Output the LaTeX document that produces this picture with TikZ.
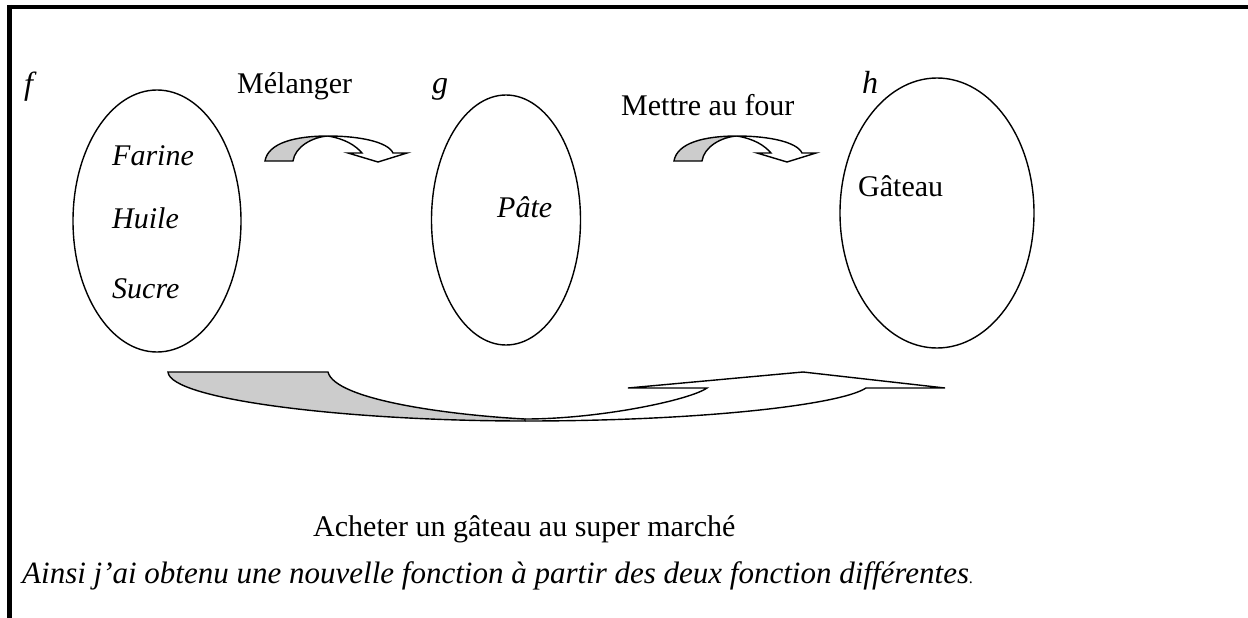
\documentclass[tikz,border=0pt]{standalone}
\usepackage{fontspec}
\setmainfont{Liberation Serif}
\usetikzlibrary{shapes.geometric}
\begin{document}
\begin{tikzpicture}[x=1pt,y=-1pt,
  setshape/.style={draw,ellipse,line width=1.4pt,inner sep=0pt},
  lbl/.style={anchor=base west,inner sep=0pt,font=\fontsize{30}{35}\selectfont},
  ilbl/.style={anchor=base west,inner sep=0pt,font=\fontsize{30}{35}\selectfont\itshape},
  band/.style={draw,line width=1.4pt,line join=miter},
  grayband/.style={band,fill=black!20}]
\useasboundingbox (0,0) rectangle (1248,618);
% frame
\draw[line width=4pt] (7,7) -- (1248,7);
\draw[line width=4.5pt] (9.5,5) -- (9.5,618);
% sets
\node[setshape,minimum width=168pt,minimum height=262pt] (setf) at (157,221) {};
\node[setshape,minimum width=149pt,minimum height=250pt] (setg) at (506,220) {};
\node[setshape,minimum width=194pt,minimum height=270pt] (seth) at (937,213) {};
% function labels
\node[ilbl,font=\fontsize{32}{36}\selectfont\itshape] (lf) at (24,95) {f};
\node[ilbl,font=\fontsize{32}{36}\selectfont\itshape] (lg) at (432,93) {g};
\node[ilbl,font=\fontsize{32}{36}\selectfont\itshape] (lh) at (862,93) {h};
\node[lbl] (mel) at (237,93) {Mélanger};
\node[lbl] (four) at (621,115) {Mettre au four};
% elements
\node[ilbl] (farine) at (112,165) {Farine};
\node[ilbl] (huile) at (112,228) {Huile};
\node[ilbl] (sucre) at (112,298) {Sucre};
\node[ilbl] (pate) at (497,217) {Pâte};
\node[lbl] (gateau) at (858,196) {Gâteau};
% small curved arrows
\foreach \dx in {0,409}{
  \begin{scope}[xshift=\dx]
    \path[grayband] (265,161) .. controls (268,143) and (295,136) .. (328,136)
      .. controls (312,137) and (295,147) .. (293,161) -- cycle;
    \path[band,fill=white] (328,136) .. controls (360,136) and (388,142) .. (393,153)
      -- (407,153) -- (378,162) -- (348,153) -- (362,153)
      .. controls (355,145) and (345,139) .. (328,136);
  \end{scope}
}
% big bottom arrow
\path[band,fill=white] (525,421) .. controls (700,421) and (840,405) .. (866,388)
  -- (945,388) -- (803,372) -- (628,388) -- (707,388)
  .. controls (690,400) and (600,419) .. (525,419);
\path[grayband] (168,372) -- (328,372) .. controls (335,400) and (450,415) .. (525,419)
  -- (525,421) .. controls (350,421) and (170,400) .. (168,372) -- cycle;
\node[lbl] (acheter) at (313,536) {Acheter un gâteau au super marché};
\node[ilbl,font=\fontsize{31}{36}\selectfont\itshape] (ainsi) at (22,583) {Ainsi j’ai obtenu une nouvelle fonction à partir des deux fonction différentes{\fontsize{16}{18}\selectfont\upshape .}};
\end{tikzpicture}
\end{document}
